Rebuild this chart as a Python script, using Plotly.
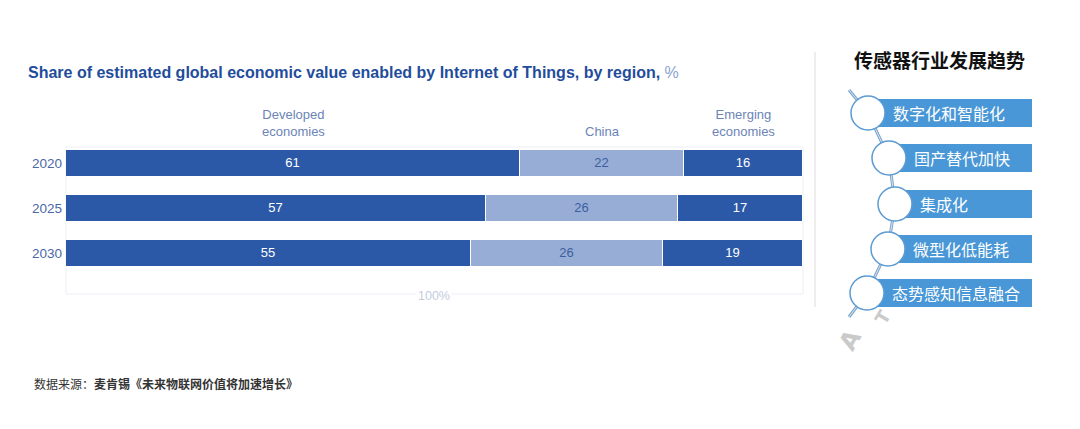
import plotly.graph_objects as go

# ---------------- data ----------------
years = ["2020", "2025", "2030"]
regions = ["Developed<br>economies", "China", "Emerging<br>economies"]
developed = [61, 57, 55]
china = [22, 26, 26]
emerging = [16, 17, 19]
title_text = "Share of estimated global economic value enabled by Internet of Things, by region, "
total_label = "100%"
panel_title = "传感器行业发展趋势"
trends = ["数字化和智能化", "国产替代加快", "集成化", "微型化低能耗", "态势感知信息融合"]
source_note = "数据来源：<b>麦肯锡《未来物联网价值将加速增长》</b>"

# page body has an 8px margin; work in screen pixels and convert
OFF = 8
W, H = 1080 - OFF, 429 - OFF
def px(x): return (x - OFF) / W
def py(y): return 1 - (y - OFF) / H

DARK = "#2b59a8"
LIGHT = "#97add6"
FONT = "Liberation Sans"
CJK = "Noto Sans CJK SC"

fig = go.Figure()
series = [(developed, DARK, "white"), (china, LIGHT, "#3d5f9f"), (emerging, DARK, "white")]
for name, (vals, col, tcol) in zip(regions, series):
    fig.add_trace(go.Bar(
        y=list(range(len(years))), x=vals, orientation="h", name=name,
        marker=dict(color=col, line=dict(color="white", width=1)),
        text=vals, texttemplate="%{text}", textposition="inside",
        insidetextanchor="middle", textangle=0,
        textfont=dict(color=tcol, size=13, family=FONT),
        width=0.58, hoverinfo="skip", showlegend=False,
    ))

x0p, x1p = 66, 803
ytop, ybot = 140.5, 298
fig.update_layout(
    width=W, height=H, margin=dict(l=0, r=0, t=0, b=0),
    paper_bgcolor="white", plot_bgcolor="rgba(0,0,0,0)",
    barmode="stack", barnorm="percent", bargap=0,
    xaxis=dict(domain=[px(x0p), px(x1p)], range=[0, 100], visible=False, fixedrange=True),
    yaxis=dict(domain=[py(ybot), py(ytop)], range=[3.0, -0.5],
               tickvals=list(range(len(years))), ticktext=years,
               showgrid=False, zeroline=False, showline=False, ticks="",
               ticklabelstandoff=3,
               tickfont=dict(color="#4b68a8", size=13.5, family=FONT)),
    font=dict(family=FONT),
)

shapes = []
annotations = []

# light frame around bars with 100% marker
shapes.append(dict(type="rect", xref="paper", yref="paper",
                   x0=px(x0p), x1=px(x1p), y0=py(294), y1=py(147),
                   line=dict(color="#eceff5", width=1), fillcolor="rgba(0,0,0,0)", layer="below"))
annotations.append(dict(xref="paper", yref="paper", x=px(434), y=py(296), text=total_label,
                        showarrow=False, bgcolor="white", font=dict(color="#c3cbe0", size=12.5, family=FONT),
                        xanchor="center", yanchor="middle"))

# region headers centred over 2020 segments
cum = 0
tot0 = developed[0] + china[0] + emerging[0]
for name, vals in zip(regions, [developed, china, emerging]):
    mid = (cum + vals[0] / 2) / tot0
    cum += vals[0]
    xc = x0p + mid * (x1p - x0p)
    annotations.append(dict(xref="paper", yref="paper", x=px(xc), y=py(141), text=name,
                            showarrow=False, xanchor="center", yanchor="bottom", align="center",
                            font=dict(color="#6c84b6", size=13, family=FONT)))

# title
annotations.append(dict(xref="paper", yref="paper", x=px(26), y=py(72),
                        text="<b>" + title_text + "</b><span style='color:#8aa3d0'>%</span>",
                        showarrow=False, xanchor="left", yanchor="middle",
                        font=dict(color="#1f4d9c", size=16, family=FONT)))

# divider
shapes.append(dict(type="line", xref="paper", yref="paper", x0=px(815), x1=px(815),
                   y0=py(52), y1=py(307), line=dict(color="#dcdcdc", width=1)))

# right panel
annotations.append(dict(xref="paper", yref="paper", x=px(939), y=py(60), text="<b>" + panel_title + "</b>",
                        showarrow=False, xanchor="center", yanchor="middle",
                        font=dict(color="#111111", size=19, family=CJK)))

centers = [(868, 113), (889, 158), (895, 204), (888, 249), (867, 293)]
pts = [(849, 90)] + centers + [(849, 317)]
path = "M " + " L ".join(f"{px(x)},{py(y)}" for x, y in pts)
shapes.append(dict(type="path", xref="paper", yref="paper", path=path,
                   line=dict(color="#7ea5cc", width=3)))
shapes.append(dict(type="path", xref="paper", yref="paper", path=path,
                   line=dict(color="#d6e4f2", width=1)))

# faint watermark glyphs
for ch, (wx, wy), sz in zip(["A", "T"], [(870, 358), (898, 330)], [24, 18]):
    annotations.append(dict(xref="paper", yref="paper", x=px(wx), y=py(wy), text="<b>" + ch + "</b>",
                            showarrow=False, textangle=-60,
                            font=dict(color="#cacaca", size=sz, family="DejaVu Sans")))

R = 17
RECT_R = 1032
for (cx, cy), label in zip(centers, trends):
    shapes.append(dict(type="rect", xref="paper", yref="paper",
                       x0=px(cx), x1=px(RECT_R), y0=py(cy + 14), y1=py(cy - 14),
                       line=dict(width=0), fillcolor="#4997d6"))
    shapes.append(dict(type="circle", xref="paper", yref="paper",
                       x0=px(cx - R), x1=px(cx + R), y0=py(cy + R), y1=py(cy - R),
                       line=dict(color="#5d9bd3", width=1.5), fillcolor="white"))
    annotations.append(dict(xref="paper", yref="paper", x=px(cx + R + 6), y=py(cy), text=label,
                            showarrow=False, xanchor="left", yanchor="middle",
                            font=dict(color="white", size=16, family=CJK)))

# source note
annotations.append(dict(xref="paper", yref="paper", x=px(32), y=py(383), text=source_note,
                        showarrow=False, xanchor="left", yanchor="middle",
                        font=dict(color="#333333", size=12, family=CJK)))

fig.update_layout(shapes=shapes, annotations=annotations)
fig.write_html("out.html")
